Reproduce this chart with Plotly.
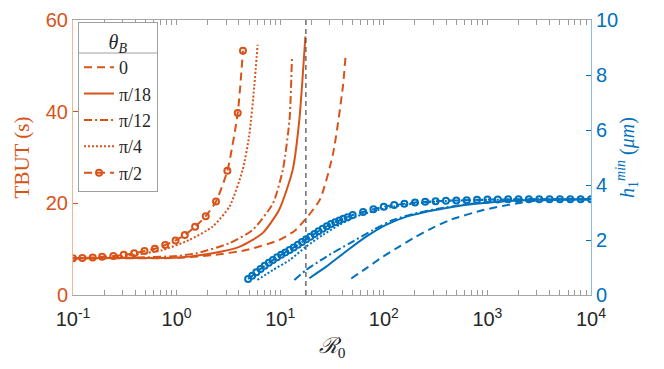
import plotly.graph_objects as go

ORANGE = "#D95319"
BLUE = "#0072BD"

# TBUT (s) vs R0, one series per theta_B
r0_tbut_0 = [0.1, 1.0, 2.22, 4.68, 9.77, 14.1, 24.0, 32.4, 40.3, 42.7]
tbut_0 = [8.0, 8.1, 8.7, 9.8, 12.0, 14.2, 20.7, 30.9, 45.5, 52.0]

r0_tbut_18 = [0.1, 0.316, 1.06, 2.22, 4.03, 6.76, 9.77, 13.2, 15.3, 17.5]
tbut_18 = [8.0, 8.05, 8.2, 9.1, 10.5, 13.5, 18.6, 27.3, 38.2, 56.4]

r0_tbut_12 = [0.1, 0.316, 1.0, 1.54, 3.24, 5.42, 8.51, 10.6, 12.3, 13.0]
tbut_12 = [8.0, 8.1, 8.5, 9.1, 11.3, 14.2, 20.0, 27.3, 38.2, 52.2]

r0_tbut_4 = [0.1, 0.2, 0.347, 0.731, 1.32, 2.22, 3.24, 4.34, 5.01, 5.62, 6.05]
tbut_4 = [8.0, 8.1, 8.6, 9.8, 12.0, 14.9, 19.3, 27.3, 34.6, 45.5, 54.6]

r0_tbut_2 = [0.1, 0.123, 0.155, 0.191, 0.245, 0.309, 0.389, 0.49, 0.617,
             0.776, 0.977, 1.2, 1.51, 1.91, 2.4, 3.09, 3.89, 4.37]
tbut_2 = [8.0, 8.1, 8.2, 8.35, 8.5, 8.8, 9.1, 9.6, 10.1,
          10.9, 11.9, 13.1, 14.9, 17.2, 20.4, 27.1, 39.7, 53.3]

# h1_min (um) vs R0
r0_h_0 = [48.5, 67.6, 97.7, 141, 204, 299, 437, 912, 1905, 2754, 5012, 10000]
h_0 = [0.6, 0.97, 1.39, 1.76, 2.12, 2.45, 2.73, 3.09, 3.33, 3.42, 3.47, 3.48]

r0_h_18 = [19.1, 27.8, 43.7, 67.6, 105, 166, 257, 347, 631, 1259, 3162, 10000]
h_18 = [0.61, 1.03, 1.6, 2.12, 2.55, 2.85, 3.03, 3.12, 3.28, 3.39, 3.46, 3.48]

r0_h_12 = [13.7, 17.8, 27.8, 46.8, 78.5, 123, 204, 347, 631, 1259, 3162, 10000]
h_12 = [0.55, 0.91, 1.39, 1.88, 2.36, 2.73, 2.97, 3.15, 3.30, 3.40, 3.46, 3.48]

r0_h_4 = [6.03, 8.51, 12.3, 17.8, 25.7, 37.2, 53.7, 79.4, 126, 200, 398, 1000, 3162, 10000]
h_4 = [0.55, 0.91, 1.27, 1.76, 2.18, 2.55, 2.85, 3.05, 3.22, 3.33, 3.42, 3.46, 3.48, 3.48]

r0_h_2 = [4.90, 5.37, 5.89, 6.46, 7.08, 7.76, 8.51, 9.33, 10.2, 11.2, 12.3, 13.5,
          14.8, 16.2, 17.8, 19.5, 21.4, 23.4, 25.7, 28.2, 30.9, 33.9, 37.2, 40.7,
          44.7, 50.1, 63.1, 79.4, 100, 126, 158, 200, 251, 316, 398, 501, 631,
          794, 1000, 1259, 1585, 1995, 2512, 3162, 3981, 5012, 6310, 7943, 10000]
h_2 = [0.58, 0.70, 0.83, 0.95, 1.06, 1.17, 1.27, 1.37, 1.46, 1.55, 1.64, 1.73,
       1.83, 1.93, 2.03, 2.12, 2.22, 2.32, 2.41, 2.50, 2.58, 2.65, 2.71, 2.77,
       2.83, 2.91, 3.02, 3.12, 3.21, 3.27, 3.32, 3.36, 3.39, 3.41, 3.43, 3.44, 3.45,
       3.46, 3.47, 3.47, 3.48, 3.48, 3.48, 3.48, 3.48, 3.48, 3.48, 3.48, 3.48]

r0_marker_line = 17.7
tbut_range = [0, 60]

labels = ["0", "π/18", "π/12", "π/4", "π/2"]
dashes = ["8px,5px", "solid", "8px,3px,2px,3px", "2px,2px", "8px,5px"]

tbut_series = [(r0_tbut_0, tbut_0), (r0_tbut_18, tbut_18), (r0_tbut_12, tbut_12),
               (r0_tbut_4, tbut_4), (r0_tbut_2, tbut_2)]
h_series = [(r0_h_0, h_0), (r0_h_18, h_18), (r0_h_12, h_12),
            (r0_h_4, h_4), (r0_h_2, h_2)]

fig = go.Figure()

for i, (x, y) in enumerate(tbut_series):
    with_markers = labels[i] == "π/2"
    fig.add_trace(go.Scatter(
        x=x, y=y, name=labels[i],
        mode="lines+markers" if with_markers else "lines",
        line=dict(color=ORANGE, width=2, dash=dashes[i], shape="spline", smoothing=0.6),
        marker=dict(symbol="circle-open", size=6, line=dict(width=2, color=ORANGE)),
        yaxis="y",
    ))

for i, (x, y) in enumerate(h_series):
    with_markers = labels[i] == "π/2"
    fig.add_trace(go.Scatter(
        x=x, y=y, name=labels[i], showlegend=False,
        mode="lines+markers" if with_markers else "lines",
        line=dict(color=BLUE, width=2, dash=dashes[i], shape="spline", smoothing=0.6),
        marker=dict(symbol="circle-open", size=6, line=dict(width=2, color=BLUE)),
        yaxis="y2",
    ))

fig.add_trace(go.Scatter(
    x=[r0_marker_line, r0_marker_line], y=tbut_range, mode="lines", showlegend=False,
    line=dict(color="#555555", width=1.3, dash="5px,4px"), yaxis="y",
))

tick_font = dict(family="Liberation Sans, Arial, sans-serif", size=20)
serif = "Liberation Serif, DejaVu Serif, serif"

# legend box: white backing + rule under the title, legend itself drawn transparent on top
leg_x0, leg_x1, leg_y0, leg_y1, leg_rule = 0.0097, 0.162, 0.393, 0.993, 0.88

# the page body adds an 8px offset, so the figure is 8px smaller than the window
fig.update_layout(
    width=656, height=361,
    margin=dict(l=65, r=73, t=12, b=74, autoexpand=False),
    paper_bgcolor="white", plot_bgcolor="white",
    showlegend=True,
    xaxis=dict(
        type="log", range=[-1, 4], automargin=False,
        tickvals=[0.1, 1, 10, 100, 1000, 10000],
        ticktext=["10<sup>-1</sup>", "10<sup>0</sup>", "10<sup>1</sup>",
                  "10<sup>2</sup>", "10<sup>3</sup>", "10<sup>4</sup>"],
        ticks="inside", ticklen=5, tickcolor="#999999", ticklabelstandoff=6,
        minor=dict(ticks="inside", ticklen=3, tickcolor="#999999", dtick="D1"),
        showline=True, linecolor="#A6A6A6", linewidth=1, mirror="allticks",
        showgrid=False, zeroline=False,
        tickfont=dict(color="#262626", **tick_font),
        title=dict(text="<i>ℛ</i><sub>0</sub>", font=dict(family=serif, size=22, color="#262626"),
                   standoff=8),
    ),
    yaxis=dict(
        range=[0, 60], tickvals=[0, 20, 40, 60], automargin=False,
        ticks="inside", ticklen=5, tickcolor=ORANGE,
        showline=True, linecolor="#EDB59A", linewidth=1,
        showgrid=False, zeroline=False,
        tickfont=dict(color=ORANGE, **tick_font),
        title=dict(text="TBUT (s)", font=dict(family=serif, size=21, color=ORANGE), standoff=10),
    ),
    yaxis2=dict(
        range=[0, 10], tickvals=[0, 2, 4, 6, 8, 10], automargin=False,
        overlaying="y", side="right",
        ticks="inside", ticklen=5, tickcolor=BLUE,
        showline=True, linecolor="#8CBCE0", linewidth=1,
        showgrid=False, zeroline=False,
        tickfont=dict(color=BLUE, **tick_font),
        title=dict(text="<i>h</i><sub>1</sub><sup><i>min</i></sup> (<i>μm</i>)",
                   font=dict(family=serif, size=20, color=BLUE), standoff=2),
    ),
    legend=dict(
        x=leg_x0, y=leg_y1, xanchor="left", yanchor="top",
        bgcolor="rgba(0,0,0,0)", bordercolor="#A0A0A0", borderwidth=1,
        font=dict(family=serif, size=18, color="#262626"),
        title=dict(text="<i>θ</i><sub><i>B</i></sub>", side="top center",
                   font=dict(family=serif, size=20, color="#262626")),
        itemwidth=30, tracegroupgap=0,
    ),
    shapes=[
        dict(type="rect", xref="paper", yref="paper", x0=leg_x0, x1=leg_x1,
             y0=leg_y0, y1=leg_y1, fillcolor="white", line=dict(width=0), layer="above"),
        dict(type="line", xref="paper", yref="paper", x0=leg_x0, x1=leg_x1,
             y0=leg_rule, y1=leg_rule, line=dict(color="#A0A0A0", width=1), layer="above"),
    ],
)

fig.write_html("out.html")
